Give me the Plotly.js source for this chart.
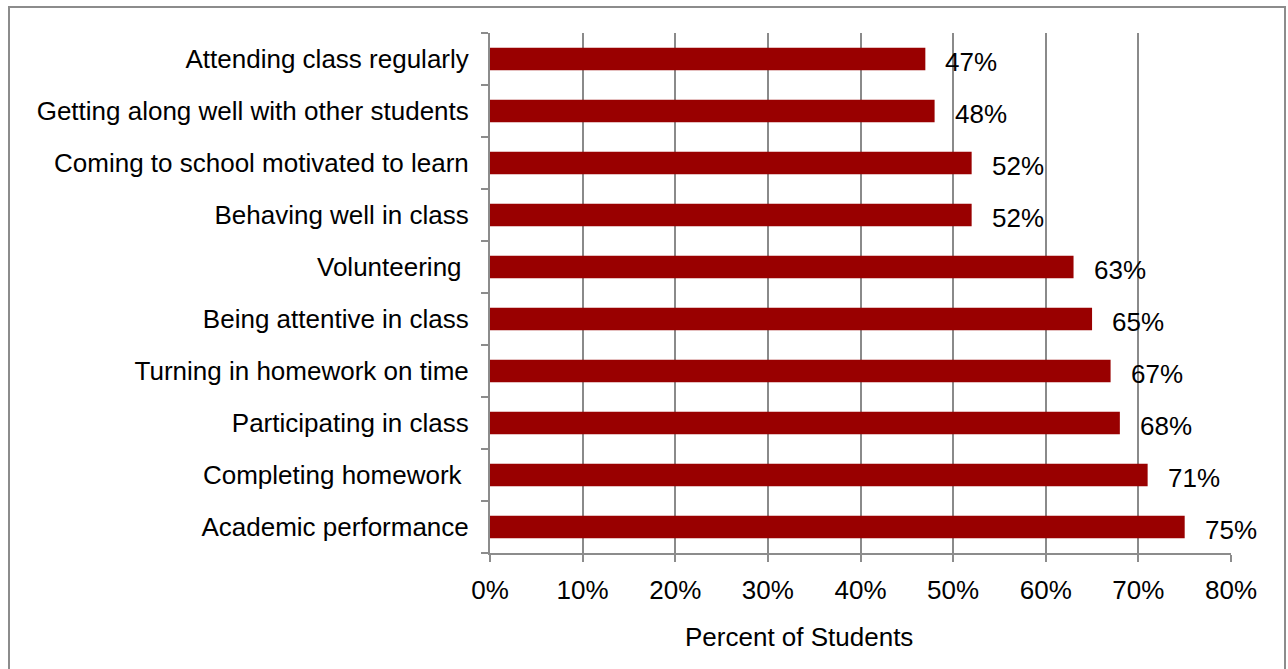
<!DOCTYPE html>
<html>
<head>
<meta charset="utf-8">
<script src="https://cdn.plot.ly/plotly-3.0.1.min.js"></script>
<style>
html,body{margin:0;padding:0;background:#fff;}
#wrap{position:relative;width:1288px;height:669px;}
#frame{position:absolute;left:8px;top:6px;width:1278px;height:670px;border:2px solid #8c8c8c;box-sizing:border-box;pointer-events:none;z-index:5;}
#chart{position:absolute;left:0;top:0;width:1288px;height:669px;}
</style>
</head>
<body>
<div id="wrap"><div id="chart"></div><div id="frame"></div></div>
<script>
const categories = [
  "Academic performance",
  "Completing homework\u00a0",
  "Participating in class",
  "Turning in homework on time",
  "Being attentive in class",
  "Volunteering\u00a0",
  "Behaving well in class",
  "Coming to school motivated to learn",
  "Getting along well with other students",
  "Attending class regularly"
];
const values = [75, 71, 68, 67, 65, 63, 52, 52, 48, 47];
const valueLabels = values.map(v => v + "%");
const xTickVals = [0, 10, 20, 30, 40, 50, 60, 70, 80];
const xTickText = xTickVals.map(v => v + "%");
const xTitle = "Percent of Students";

const font = {family: "Liberation Sans, Arial, sans-serif", size: 26, color: "#000"};

const trace = {
  type: "bar",
  orientation: "h",
  y: categories,
  x: values,
  marker: {color: "#990000", line: {width: 0}},
  width: 0.43,
  hoverinfo: "skip"
};

const annotations = values.map((v, i) => ({
  x: v, y: categories[i], xref: "x", yref: "y",
  text: valueLabels[i], showarrow: false,
  xanchor: "left", yanchor: "middle",
  xshift: 18, yshift: -3,
  font: font
}));
annotations.push({
  xref: "paper", yref: "paper", x: 0.417, y: -0.1615,
  xanchor: "center", yanchor: "middle",
  text: xTitle, showarrow: false, font: font
});

const layout = {
  width: 1288, height: 669,
  margin: {l: 490, r: 57, t: 33, b: 116},
  paper_bgcolor: "#fff", plot_bgcolor: "#fff",
  showlegend: false,
  font: font,
  xaxis: {
    range: [0, 80],
    tickvals: xTickVals, ticktext: xTickText,
    showgrid: true, gridcolor: "#8a8a8a", gridwidth: 2,
    zeroline: false,
    showline: true, linecolor: "#8c8c8c", linewidth: 2,
    ticks: "outside", ticklen: 7, tickcolor: "#8c8c8c", tickwidth: 2,
    ticklabelstandoff: 6,
    tickfont: font,
    fixedrange: true
  },
  yaxis: {
    type: "category",
    categoryorder: "array", categoryarray: categories,
    showgrid: false, zeroline: false,
    showline: true, linecolor: "#8c8c8c", linewidth: 2,
    ticks: "outside", ticklen: 7, tickcolor: "#8c8c8c", tickwidth: 2,
    tickson: "boundaries",
    ticklabelstandoff: 14,
    tickfont: font,
    fixedrange: true
  },
  annotations: annotations
};

Plotly.newPlot("chart", [trace], layout, {displayModeBar: false, staticPlot: true});
</script>
</body>
</html>
